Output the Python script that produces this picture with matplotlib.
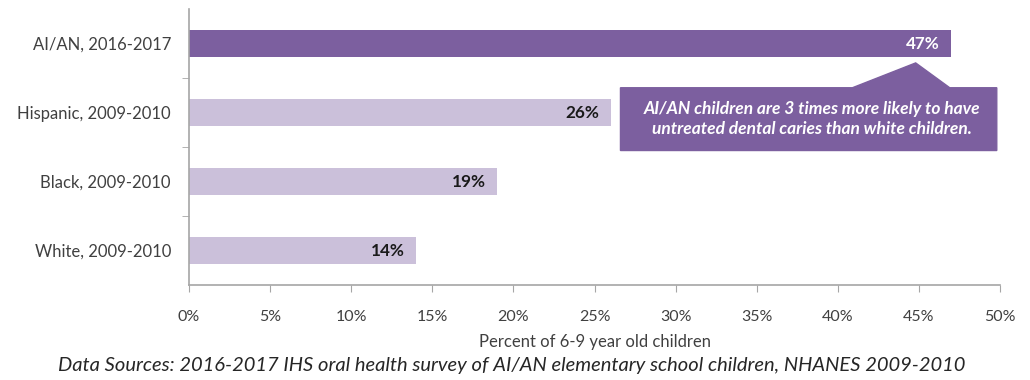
import matplotlib
matplotlib.use("Agg")
import matplotlib.pyplot as plt
from matplotlib.patches import Polygon
from matplotlib.ticker import FixedLocator, PercentFormatter

plt.rcParams['font.family'] = ['Lato', 'DejaVu Sans']

# untreated dental caries, percent of 6-9 year olds
groups = ["AI/AN, 2016-2017", "Hispanic, 2009-2010", "Black, 2009-2010", "White, 2009-2010"]
pct = [47, 26, 19, 14]
xticks = [0, 5, 10, 15, 20, 25, 30, 35, 40, 45, 50]
callout = "AI/AN children are 3 times more likely to have\nuntreated dental caries than white children."

dark = "#7c5f9f"
light = "#cbc0da"
grey = "#a6a6a6"
txt = "#404040"

fig = plt.figure(figsize=(10.3, 3.8), dpi=100)
ax = fig.add_axes([0.1835, 0.25, 0.7874, 0.726])

ypos = list(range(len(groups)))
colors = [dark] + [light] * (len(groups) - 1)
ax.barh(ypos, pct, height=0.39, color=colors)
ax.set_ylim(len(groups) - 0.5, -0.5)
ax.set_xlim(0, 50)

for i, v in enumerate(pct):
    ax.text(v - 0.7, i, f"{v}%", ha="right", va="center", fontsize=12.3,
            fontweight="bold", color="white" if i == 0 else "#1a1a1a")

# y axis: labels centred on bars, tick marks between categories
ax.set_yticks(ypos)
ax.set_yticklabels(groups, fontsize=12, color=txt)
ax.tick_params(axis="y", which="major", length=0, pad=13)
ax.yaxis.set_minor_locator(FixedLocator([0.5, 1.5, 2.5]))
ax.tick_params(axis="y", which="minor", length=5, color=grey)

ax.xaxis.set_major_locator(FixedLocator(xticks))
ax.xaxis.set_major_formatter(PercentFormatter(decimals=0))
ax.tick_params(axis="x", length=5, color=grey, labelsize=11.5, labelcolor=txt, pad=13)
ax.set_xlabel("Percent of 6-9 year old children", fontsize=12, color=txt, labelpad=7)

for s in ["top", "right"]:
    ax.spines[s].set_visible(False)
for s in ["left", "bottom"]:
    ax.spines[s].set_color(grey)
    ax.spines[s].set_linewidth(1.2)

# callout box with a pointer up to the AI/AN bar
bx0, bx1, by0, by1 = 26.6, 49.8, 0.64, 1.55
box = Polygon([(bx0, by0), (40.9, by0), (44.8, 0.28), (46.9, by0), (bx1, by0),
               (bx1, by1), (bx0, by1)], closed=True, facecolor=dark,
              edgecolor=dark, clip_on=False, zorder=3)
ax.add_patch(box)
ax.text((bx0 + bx1) / 2 + 0.2, (by0 + by1) / 2, callout, ha="center", va="center",
        fontsize=12.5, fontweight="bold", style="italic", color="white",
        linespacing=1.35, zorder=4)

fig.text(0.4966, 0.037, "Data Sources: 2016-2017 IHS oral health survey of AI/AN elementary school children, NHANES 2009-2010",
         ha="center", va="center", fontsize=14.5, style="italic", color="#262626")

fig.savefig("out.png", dpi=100)
